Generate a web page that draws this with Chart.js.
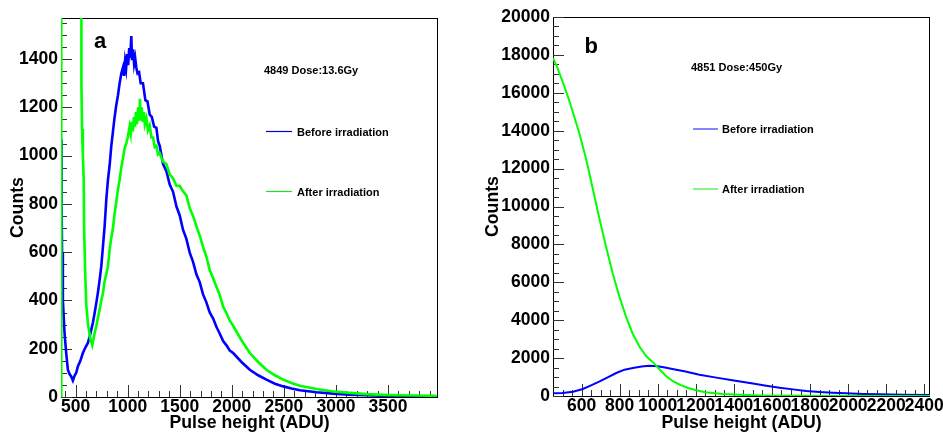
<!DOCTYPE html>
<html>
<head>
<meta charset="utf-8">
<title>Pulse height spectra before and after irradiation</title>
<script src="https://cdn.jsdelivr.net/npm/chart.js@4.4.1/dist/chart.umd.min.js"></script>
<style>
  html, body { margin: 0; padding: 0; background: #fff; }
  body { width: 943px; height: 434px; position: relative; overflow: hidden; }
  .panel { position: absolute; top: 0; width: 470px; height: 434px; }
  #panelA { left: 0; }
  #panelB { left: 473px; }
</style>
</head>
<body>
<div class="panel" id="panelA"><canvas id="chartA" width="470" height="434"></canvas></div>
<div class="panel" id="panelB"><canvas id="chartB" width="470" height="434"></canvas></div>
<script>
// ---- panel a: sample 4849, dose 13.6 Gy ----
const heightA_before = [
  362, 366, 370, 378, 394, 410, 426, 442, 458, 474,
  490, 506, 522, 546, 570, 594, 618, 635, 651, 667,
  683, 699, 714, 731, 747, 763, 779, 795, 811, 827,
  843, 859, 875, 891, 907, 923, 939, 955, 965, 975,
  985, 995, 1005, 1015, 1025, 1035, 1042, 1052, 1062, 1072,
  1083, 1095, 1110, 1125, 1147, 1170, 1190, 1212, 1232, 1254,
  1276, 1292, 1308, 1340, 1372, 1404, 1436, 1468, 1500, 1532,
  1564, 1596, 1628, 1660, 1692, 1724, 1756, 1788, 1821, 1853,
  1885, 1917, 1949, 1981, 2013, 2093, 2173, 2253, 2333, 2414,
  2494, 2574, 2654, 2814, 2974, 3134, 3295, 3455, 3615, 3775, 3965
];
const countsA_before = [
  1067, 800, 600, 400, 265, 182, 113, 95, 85, 68,
  88, 100, 127, 150, 182, 205, 224, 250, 279, 310,
  348, 390, 431, 485, 542, 625, 708, 818, 900, 960,
  1040, 1100, 1160, 1210, 1250, 1300, 1340, 1365, 1330, 1390,
  1360, 1420, 1375, 1445, 1405, 1495, 1395, 1440, 1380, 1405,
  1365, 1340, 1345, 1300, 1300, 1230, 1225, 1170, 1160, 1120,
  1115, 1060, 1040, 965, 935, 880, 850, 790, 752, 692,
  655, 598, 560, 508, 476, 425, 392, 350, 325, 290,
  262, 232, 214, 192, 182, 145, 113, 90, 72, 55,
  44, 35, 28, 20, 14, 10, 7, 5, 3, 2, 1
];
const heightA_after = [
  362, 363, 554, 556, 562, 570, 578, 582, 592, 603,
  620, 640, 660, 670, 683, 699, 715, 731, 747, 763,
  779, 795, 811, 827, 843, 859, 875, 891, 907, 923,
  939, 955, 971, 987, 1003, 1019, 1030, 1040, 1050, 1060,
  1070, 1080, 1090, 1100, 1110, 1117, 1125, 1135, 1145, 1155,
  1165, 1180, 1195, 1212, 1228, 1244, 1260, 1276, 1292, 1308,
  1340, 1372, 1404, 1436, 1468, 1500, 1532, 1564, 1596, 1628,
  1660, 1692, 1724, 1756, 1788, 1821, 1853, 1885, 1917, 1949,
  1981, 2013, 2093, 2173, 2253, 2333, 2414, 2494, 2574, 2654,
  2814, 2974, 3134, 3295, 3455, 3615, 3775, 3965
];
const countsA_after = [
  0, 2600, 2600, 1300, 1110, 1000, 900, 700, 520, 380,
  300, 245, 215, 235, 265, 293, 330, 362, 400, 431,
  480, 510, 542, 610, 660, 700, 760, 810, 860, 900,
  950, 990, 1030, 1050, 1080, 1120, 1090, 1140, 1100, 1160,
  1120, 1180, 1130, 1200, 1150, 1235, 1160, 1200, 1140, 1180,
  1130, 1155, 1105, 1125, 1075, 1075, 1035, 1040, 1005, 1010,
  975, 965, 922, 905, 875, 875, 852, 835, 782, 750,
  708, 668, 622, 582, 526, 492, 456, 422, 374, 347,
  316, 295, 235, 182, 145, 113, 90, 72, 58, 47,
  33, 23, 17, 12, 9, 7, 6, 5
];
const xTicksA = [500, 1000, 1500, 2000, 2500, 3000, 3500];
const yTicksA = [0, 200, 400, 600, 800, 1000, 1200, 1400];

// ---- panel b: sample 4851, dose 450 Gy ----
const heightB_before = [
  450, 500, 555, 607, 650, 695, 740, 782, 826, 870,
  915, 957, 1000, 1045, 1090, 1140, 1219, 1308, 1400, 1500,
  1570, 1640, 1710, 1780, 1850, 1920, 1990, 2080, 2165, 2290, 2430
];
const countsB_before = [
  150, 160, 220, 369, 560, 770, 1000, 1213, 1390, 1477,
  1560, 1600, 1570, 1490, 1400, 1310, 1124, 970, 820, 660,
  545, 440, 350, 270, 211, 170, 141, 110, 88, 65, 50
];
const heightB_after = [
  450, 470, 500, 530, 560, 590, 625, 656, 691, 728,
  763, 798, 833, 868, 903, 940, 973, 992, 1010, 1045,
  1080, 1115, 1160, 1202, 1250, 1288, 1340, 1400, 1465, 1530,
  1600, 1700, 1850, 2000, 2200, 2430
];
const countsB_after = [
  17836, 17400, 16600, 15750, 14800, 13800, 12470, 11064, 9481, 7898,
  6491, 5259, 4204, 3300, 2621, 2093, 1800, 1600, 1400, 1038,
  780, 598, 420, 300, 200, 158, 110, 75, 50, 30,
  18, 10, 5, 3, 2, 1
];
const xTicksB = [600, 800, 1000, 1200, 1400, 1600, 1800, 2000, 2200, 2400];
const yTicksB = [0, 2000, 4000, 6000, 8000, 10000, 12000, 14000, 16000, 18000, 20000];

const seriesNames = ['Before irradiation', 'After irradiation'];
const doseNotes = ['4849 Dose:13.6Gy', '4851 Dose:450Gy'];

const FONT = '"Liberation Sans", Arial, Helvetica, sans-serif';
Chart.defaults.font.family = FONT;
Chart.defaults.color = '#000';

function toPoints(xs, ys) {
  return xs.map((x, i) => ({ x: x, y: ys[i] }));
}

// ROOT-style frame: box, inward major/minor ticks, panel tag and legend
function makeFrame(cfg) {
  return {
    id: 'rootFrame',
    beforeDatasetsDraw(chart) {
      const { ctx, chartArea: area, scales } = chart;
      const xs = scales.x, ys = scales.y;
      ctx.save();
      ctx.lineWidth = 1;
      ctx.strokeStyle = '#000';
      ctx.strokeRect(area.left + 0.5, area.top + 0.5, area.right - area.left - 1, area.bottom - area.top);
      ctx.strokeStyle = '#333';
      ctx.beginPath();
      for (let v = cfg.xMinor[0]; v <= xs.max; v += cfg.xMinor[1]) {
        const px = Math.round(xs.getPixelForValue(v)) + 0.5;
        const len = cfg.xMajor.includes(v) ? 12 : 6;
        ctx.moveTo(px, area.bottom);
        ctx.lineTo(px, area.bottom - len);
      }
      for (let v = cfg.yMinor[0]; v <= ys.max; v += cfg.yMinor[1]) {
        const py = Math.round(ys.getPixelForValue(v)) + 0.5;
        const len = cfg.yMajor.includes(v) ? 11 : 6;
        ctx.moveTo(area.left, py);
        ctx.lineTo(area.left + len, py);
      }
      ctx.stroke();
      ctx.restore();
    },
    afterDraw(chart) {
      const ctx = chart.ctx;
      ctx.save();
      ctx.fillStyle = '#000';
      ctx.textBaseline = 'alphabetic';
      ctx.textAlign = 'left';
      ctx.font = 'bold 22px ' + FONT;
      ctx.fillText(cfg.tag.text, cfg.tag.x, cfg.tag.y);
      ctx.font = 'bold 11px ' + FONT;
      ctx.fillText(cfg.note.text, cfg.note.x, cfg.note.y);
      cfg.entries.forEach(e => {
        ctx.strokeStyle = e.color;
        ctx.lineWidth = e.width;
        ctx.beginPath();
        ctx.moveTo(e.x0, e.y);
        ctx.lineTo(e.x1, e.y);
        ctx.stroke();
        ctx.fillText(e.text, e.tx, e.ty);
      });
      ctx.restore();
    }
  };
}

function fixSize(size) {
  return function (scale) {
    if (scale.isHorizontal()) scale.height = size; else scale.width = size;
    scale.paddingLeft = scale.paddingRight = scale.paddingTop = scale.paddingBottom = 0;
  };
}

function useTicks(values) {
  return function (scale) {
    scale.ticks = values.map(v => ({ value: v }));
  };
}

function buildChart(canvasId, p) {
  return new Chart(document.getElementById(canvasId), {
    type: 'line',
    data: {
      datasets: [
        {
          label: seriesNames[0],
          data: toPoints(p.xBefore, p.yBefore),
          borderColor: '#0000ff',
          borderWidth: p.lineWidth,
          pointRadius: 0,
          tension: 0,
          order: 1
        },
        {
          label: seriesNames[1],
          data: toPoints(p.xAfter, p.yAfter),
          borderColor: '#00ff00',
          borderWidth: p.lineWidth,
          pointRadius: 0,
          tension: 0,
          order: 0
        }
      ]
    },
    options: {
      responsive: false,
      animation: false,
      events: [],
      layout: { padding: p.padding },
      plugins: { legend: { display: false }, tooltip: { enabled: false } },
      scales: {
        x: {
          type: 'linear',
          min: p.xRange[0],
          max: p.xRange[1],
          grid: { display: false, drawTicks: false },
          border: { display: false },
          afterBuildTicks: useTicks(p.xTicks),
          afterFit: fixSize(p.xAxisHeight),
          ticks: {
            autoSkip: false,
            maxRotation: 0,
            minRotation: 0,
            padding: 0,
            color: '#000',
            font: { size: 17.5, weight: 'bold', lineHeight: 1.2 },
            callback: v => String(v)
          },
          title: {
            display: true,
            text: 'Pulse height (ADU)',
            color: '#000',
            font: { size: 17.7, weight: 'bold', lineHeight: 1.2 },
            padding: { top: 0, bottom: 0 }
          }
        },
        y: {
          type: 'linear',
          min: 0,
          max: p.yMax,
          grid: { display: false, drawTicks: false },
          border: { display: false },
          afterBuildTicks: useTicks(p.yTicks),
          afterFit: fixSize(p.yAxisWidth),
          ticks: {
            autoSkip: false,
            padding: 3,
            color: '#000',
            font: { size: 17.5, weight: 'bold', lineHeight: 1.2 },
            callback: v => String(v)
          },
          title: {
            display: true,
            text: 'Counts',
            color: '#000',
            font: { size: 17.7, weight: 'bold', lineHeight: 1.2 },
            padding: { top: p.yTitlePad, bottom: 0 }
          }
        }
      }
    },
    plugins: [makeFrame(p.frame)]
  });
}

buildChart('chartA', {
  xBefore: heightA_before, yBefore: countsA_before,
  xAfter: heightA_after, yAfter: countsA_after,
  xTicks: xTicksA, yTicks: yTicksA,
  xRange: [360, 3980], yMax: 1570,
  lineWidth: 2.6,
  padding: { left: 0, right: 32, top: 18, bottom: 0 },
  yAxisWidth: 61, xAxisHeight: 37, yTitlePad: 7.7,
  frame: {
    xMajor: xTicksA, xMinor: [400, 100],
    yMajor: yTicksA, yMinor: [0, 50],
    tag: { text: 'a', x: 94, y: 48 },
    note: { text: doseNotes[0], x: 264, y: 73.6 },
    entries: [
      { text: seriesNames[0], color: '#0000dd', width: 1.2, x0: 266, x1: 292, y: 131.5, tx: 297, ty: 135.8 },
      { text: seriesNames[1], color: '#22dd22', width: 1.2, x0: 266, x1: 292, y: 191.5, tx: 297, ty: 195.8 }
    ]
  }
});

buildChart('chartB', {
  xBefore: heightB_before, yBefore: countsB_before,
  xAfter: heightB_after, yAfter: countsB_after,
  xTicks: xTicksB, yTicks: yTicksB,
  xRange: [450, 2430], yMax: 20000,
  lineWidth: 2,
  padding: { left: 0, right: 13, top: 17, bottom: 0 },
  yAxisWidth: 80, xAxisHeight: 38, yTitlePad: 9.4,
  frame: {
    xMajor: xTicksB, xMinor: [500, 50],
    yMajor: yTicksB, yMinor: [0, 500],
    tag: { text: 'b', x: 111.5, y: 52.5 },
    note: { text: doseNotes[1], x: 218, y: 71 },
    entries: [
      { text: seriesNames[0], color: '#8585ff', width: 2, x0: 220, x1: 245, y: 129, tx: 249, ty: 133 },
      { text: seriesNames[1], color: '#85f585', width: 2, x0: 220, x1: 245, y: 189, tx: 249, ty: 193.2 }
    ]
  }
});
</script>
</body>
</html>
